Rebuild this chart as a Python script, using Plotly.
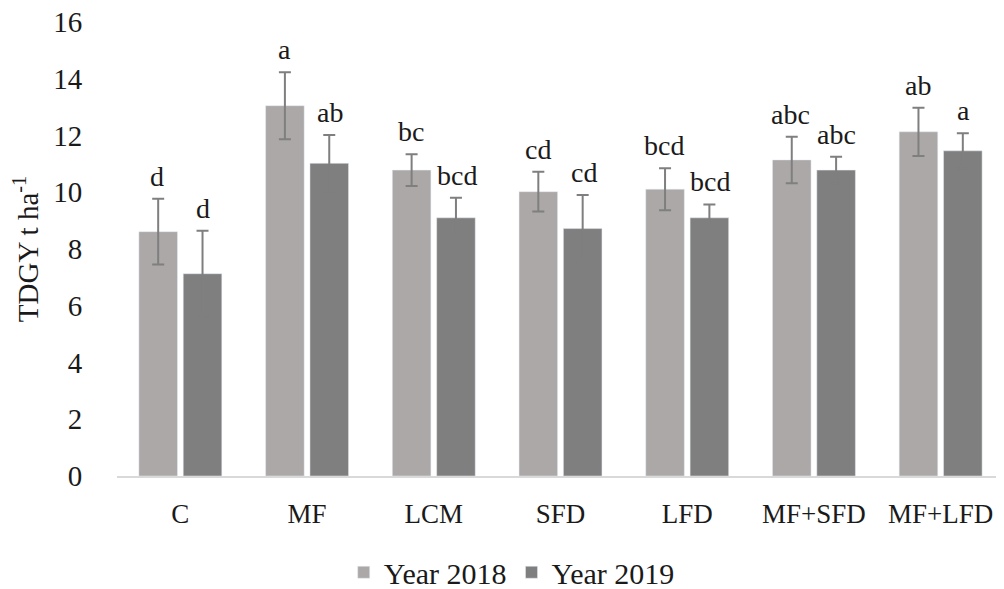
import plotly.graph_objects as go

categories = ["C", "MF", "LCM", "SFD", "LFD", "MF+SFD", "MF+LFD"]
y2018 = [8.61, 13.05, 10.78, 10.02, 10.11, 11.14, 12.13]
e2018 = [1.16, 1.18, 0.56, 0.70, 0.74, 0.82, 0.85]
y2019 = [7.13, 11.02, 9.10, 8.72, 9.10, 10.78, 11.46]
e2019 = [1.51, 1.00, 0.71, 1.18, 0.47, 0.47, 0.62]
letters2018 = ["d", "a", "bc", "cd", "bcd", "abc", "ab"]
letters2019 = ["d", "ab", "bcd", "cd", "bcd", "abc", "a"]
yticks = [0, 2, 4, 6, 8, 10, 12, 14, 16]

FONT = "Liberation Serif"
C18 = "#ABA8A7"
C19 = "#7F7F7F"
ECOL = "#7F7F7F"
TXT = "#1a1a1a"

fig = go.Figure()
fig.add_trace(go.Bar(
    x=categories, y=y2018, name="Year 2018", marker_color=C18,
    error_y=dict(type="data", array=e2018, color=ECOL, thickness=2, width=6),
))
fig.add_trace(go.Bar(
    x=categories, y=y2019, name="Year 2019", marker_color=C19,
    error_y=dict(type="data", array=e2019, color=ECOL, thickness=2, width=6),
))

for c, v, e, t in zip(categories, y2018, e2018, letters2018):
    fig.add_annotation(x=c, y=v + e, text=t, showarrow=False, xshift=-23,
                       yanchor="bottom", yshift=5,
                       font=dict(family=FONT, size=28, color=TXT))
for c, v, e, t in zip(categories, y2019, e2019, letters2019):
    fig.add_annotation(x=c, y=v + e, text=t, showarrow=False, xshift=23,
                       yanchor="bottom", yshift=5,
                       font=dict(family=FONT, size=28, color=TXT))

fig.update_layout(
    width=996, height=581,
    margin=dict(l=109, r=0, t=14, b=113, autoexpand=False),
    plot_bgcolor="white", paper_bgcolor="white",
    barmode="group", bargap=0.3, bargroupgap=0.13,
    font=dict(family=FONT, size=28, color=TXT),
    showlegend=True,
    legend=dict(orientation="h", x=0.445, xanchor="center", y=-0.212, yanchor="middle",
                font=dict(family=FONT, size=30, color=TXT),
                itemwidth=30, traceorder="normal"),
)
fig.update_xaxes(showline=True, linecolor="#D9D9D9", linewidth=1.5, automargin=False,
                 ticks="outside", ticklen=13, tickcolor="rgba(0,0,0,0)",
                 ticklabeloverflow="allow",
                 tickfont=dict(family=FONT, size=27, color=TXT))
fig.update_yaxes(range=[0, 16], tickvals=yticks, showgrid=False, zeroline=False,
                 showline=False, ticks="outside", ticklen=28, tickcolor="rgba(0,0,0,0)",
                 automargin=False, ticklabeloverflow="allow",
                 tickfont=dict(family=FONT, size=29, color=TXT),
                 title=dict(text="TDGY t ha<sup>-1</sup>", standoff=14,
                            font=dict(family=FONT, size=29, color=TXT)))

fig.write_html("out.html")
